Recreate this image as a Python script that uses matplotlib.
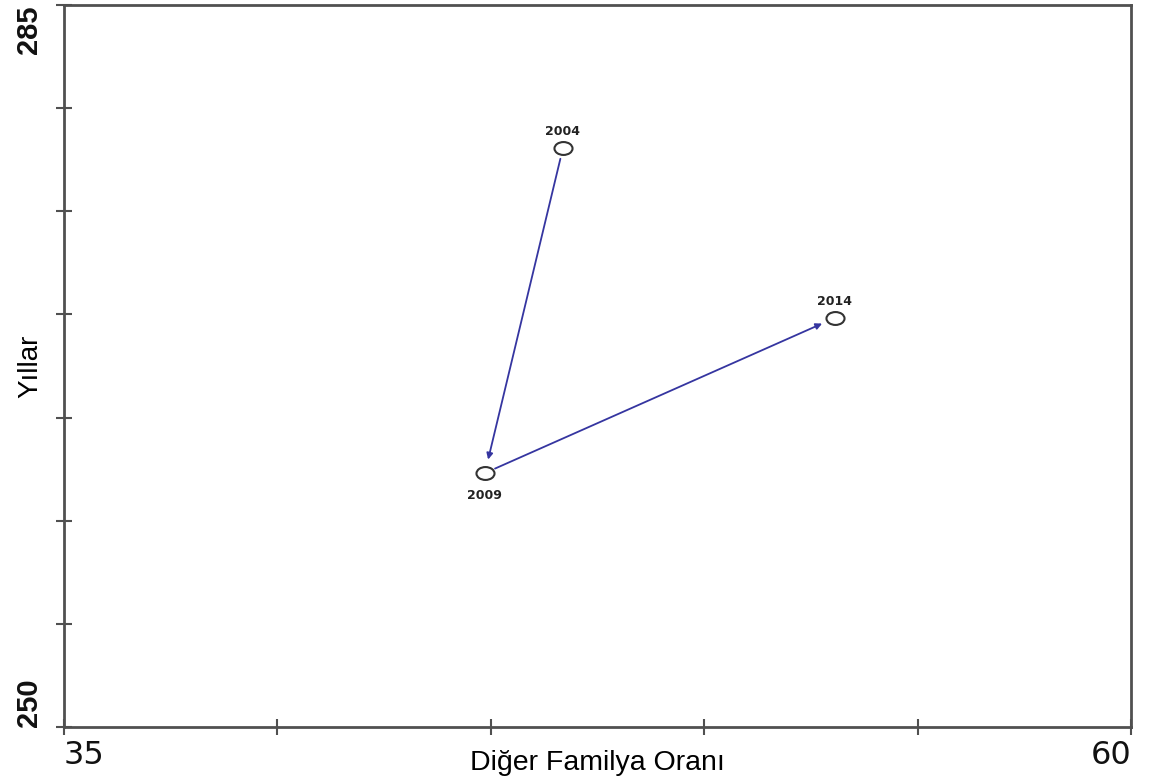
import matplotlib
matplotlib.use('Agg')
import numpy as np
import matplotlib.pyplot as plt
from matplotlib.path import Path
from matplotlib.transforms import Affine2D

# Year positions: share of other families vs. value
years = ['2004', '2009', '2014']
oran = [46.69, 44.86, 53.06]
deger = [278.07, 262.31, 269.83]

x_ticks = [35, 40, 45, 50, 55, 60]
x_labels = ['35', '', '', '', '', '60']
y_ticks = [250, 255, 260, 265, 270, 275, 280, 285]
y_labels = ['250', '', '', '', '', '', '', '285']

# label offsets in points (above / below the circle)
label_offsets = [(0, 12), (0, -16), (0, 12)]

axis_col = '#505050'
arrow_col = '#3535a0'

fig = plt.figure(figsize=(11.5, 7.83), dpi=100)
ax = fig.add_axes([0.0557, 0.0715, 0.9278, 0.9221])

for s in ax.spines.values():
    s.set_color(axis_col)
    s.set_linewidth(2.0)

ax.set_xlim(35, 60)
ax.set_ylim(250, 285)

ax.set_xticks(x_ticks)
ax.set_xticklabels(x_labels, fontsize=23, family='DejaVu Sans', color='#111111')
ax.set_yticks(y_ticks)
ax.set_yticklabels(y_labels, fontsize=21, family=['Liberation Sans Narrow', 'Liberation Sans'],
                   fontweight='bold', rotation=90, color='#111111')
ax.tick_params(axis='both', direction='inout', length=12, width=1.5, color=axis_col)
ax.tick_params(axis='x', pad=3)
ax.tick_params(axis='y', pad=9)

xl = ax.get_xticklabels()
xl[0].set_ha('left')
xl[-1].set_ha('right')
yl = ax.get_yticklabels()
yl[0].set_va('bottom')
yl[-1].set_va('top')

# flattened open circle marker
ellipse = Path.unit_circle().transformed(Affine2D().scale(1.4, 1.0))
ax.plot(oran, deger, linestyle=' ', marker=ellipse, markersize=13,
        markerfacecolor='white', markeredgecolor='#333333', markeredgewidth=1.5,
        zorder=3)

for i in range(len(years) - 1):
    ax.annotate('', xy=(oran[i + 1], deger[i + 1]), xytext=(oran[i], deger[i]),
                arrowprops=dict(arrowstyle='-|>', color=arrow_col, lw=1.3,
                                mutation_scale=9, shrinkA=8, shrinkB=10),
                zorder=2)

for yr, x, y, off in zip(years, oran, deger, label_offsets):
    ax.annotate(yr, (x, y), xytext=off, textcoords='offset points',
                ha='center', va='center', fontsize=9, fontweight='bold',
                family='DejaVu Sans', color='#222222')

ax.set_xlabel('Diğer Familya Oranı', fontsize=20.5, family='Liberation Sans')
ax.set_ylabel('Yıllar', fontsize=20, family='Liberation Sans')
ax.xaxis.set_label_coords(0.5, -0.05)
ax.yaxis.set_label_coords(-0.032, 0.5)
ax.xaxis.label.set_va('center')
ax.yaxis.label.set_va('center')

fig.savefig('out.png', dpi=100)
